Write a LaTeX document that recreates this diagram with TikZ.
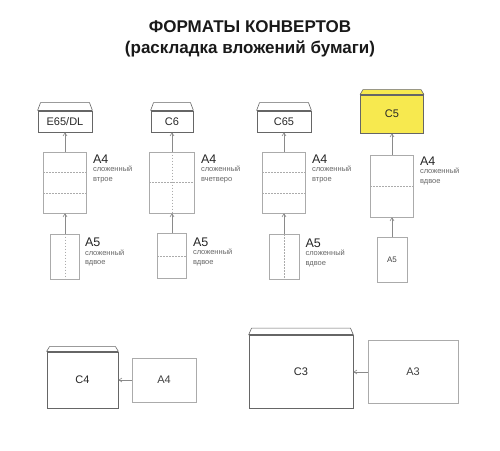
\documentclass[tikz,border=0pt]{standalone}
\usepackage{fontspec}
\setmainfont{Liberation Sans}
\usetikzlibrary{arrows.meta,positioning,calc}

\definecolor{envyellow}{HTML}{F7E94F}
\definecolor{sheetgray}{HTML}{ABABAB}
\definecolor{envgray}{HTML}{666666}
\definecolor{arrgray}{HTML}{8A8A8A}

\tikzset{
  env/.style={draw=envgray, line width=0.9pt, inner sep=0pt, text=black!85,
    font=\fontsize{11}{11}\selectfont},
  sheet/.style={draw=sheetgray, line width=0.6pt, inner sep=0pt, text=black!75,
    font=\fontsize{11}{11}\selectfont},
  fold/.style={sheetgray, line width=0.5pt, dash pattern=on 1.5pt off 1.5pt},
  arr/.style={-{Straight Barb[length=3pt,width=4pt]}, arrgray, line width=0.6pt},
  biglbl/.style={anchor=north west, inner sep=0pt, text=black!85,
    font=\fontsize{12.5}{12.5}\selectfont},
  smalllbl/.style={inner sep=0pt, align=left, text=black!60,
    font=\fontsize{7.5}{9.5}\selectfont},
}

\begin{document}
\begin{tikzpicture}[x=1pt, y=-1pt]
  \useasboundingbox (0,0) rectangle (500,450);

  % title
  \node[font=\bfseries\fontsize{17}{17}\selectfont, text=black!90] (title) at (250,27) {ФОРМАТЫ КОНВЕРТОВ};
  \node[font=\bfseries\fontsize{17}{17}\selectfont, text=black!90] (subtitle) at (250,49) {(раскладка вложений бумаги)};

  % envelopes
  \node[env, minimum width=54, minimum height=21] (dl) at (65,121.5) {E65/DL};
  \node[env, minimum width=42, minimum height=21] (c6) at (172,121.5) {C6};
  \node[env, minimum width=54, minimum height=21] (c65) at (284,121.5) {C65};
  \node[env, fill=envyellow, minimum width=63, minimum height=38] (c5) at (392,114) {C5};
  \node[env, minimum width=71, minimum height=56] (c4) at (82.5,380) {C4};
  \node[env, minimum width=104, minimum height=73] (c3) at (301,372) {C3};

  % flaps
  \foreach \e/\h/\f in {dl/8/white, c6/8/white, c65/8/white, c5/5/envyellow, c4/5/white, c3/7/white} {
    \draw[envgray, line width=0.6pt, fill=\f] (\e.north west) -- ([shift={(3,-\h)}]\e.north west)
      -- ([shift={(-3,-\h)}]\e.north east) -- (\e.north east);
    \draw[envgray, line width=1.3pt] (\e.north west) -- (\e.north east);
  }

  % column 1: A4 in three, A5 in two
  \node[sheet, minimum width=43, minimum height=61] (a4a) at (65,182.5) {};
  \draw[fold] ($(a4a.north west)!1/3!(a4a.south west)$) -- ($(a4a.north east)!1/3!(a4a.south east)$);
  \draw[fold] ($(a4a.north west)!2/3!(a4a.south west)$) -- ($(a4a.north east)!2/3!(a4a.south east)$);
  \node[sheet, minimum width=29, minimum height=45] (a5a) at (65,256.5) {};
  \draw[fold] (a5a.north) -- (a5a.south);
  \draw[arr] (a5a) -- (a4a);
  \draw[arr] (a4a) -- (dl);
  \node[biglbl] (a4al) at ([xshift=6pt,yshift=-3pt]a4a.north east) {A4};
  \node[smalllbl, below=2.5pt of a4al.south west, anchor=north west] {сложенный\\втрое};
  \node[biglbl] (a5al) at ([xshift=5pt,yshift=-4pt]a5a.north east) {A5};
  \node[smalllbl, below=2.5pt of a5al.south west, anchor=north west] {сложенный\\вдвое};

  % column 2: A4 in four, A5 in two
  \node[sheet, minimum width=45, minimum height=61] (a4b) at (172,182.5) {};
  \draw[fold] (a4b.north) -- (a4b.south);
  \draw[fold] (a4b.west) -- (a4b.east);
  \node[sheet, minimum width=29, minimum height=45] (a5b) at (172,256) {};
  \draw[fold] (a5b.west) -- (a5b.east);
  \draw[arr] (a5b) -- (a4b);
  \draw[arr] (a4b) -- (c6);
  \node[biglbl] (a4bl) at ([xshift=6pt,yshift=-3pt]a4b.north east) {A4};
  \node[smalllbl, below=2.5pt of a4bl.south west, anchor=north west] {сложенный\\вчетверо};
  \node[biglbl] (a5bl) at ([xshift=6pt,yshift=-4pt]a5b.north east) {A5};
  \node[smalllbl, below=2.5pt of a5bl.south west, anchor=north west] {сложенный\\вдвое};

  % column 3: A4 in three, A5 in two
  \node[sheet, minimum width=43, minimum height=61] (a4c) at (284,182.5) {};
  \draw[fold] ($(a4c.north west)!1/3!(a4c.south west)$) -- ($(a4c.north east)!1/3!(a4c.south east)$);
  \draw[fold] ($(a4c.north west)!2/3!(a4c.south west)$) -- ($(a4c.north east)!2/3!(a4c.south east)$);
  \node[sheet, minimum width=30, minimum height=45] (a5c) at (284,257) {};
  \draw[fold] (a5c.north) -- (a5c.south);
  \draw[arr] (a5c) -- (a4c);
  \draw[arr] (a4c) -- (c65);
  \node[biglbl] (a4cl) at ([xshift=6pt,yshift=-3pt]a4c.north east) {A4};
  \node[smalllbl, below=2.5pt of a4cl.south west, anchor=north west] {сложенный\\втрое};
  \node[biglbl] (a5cl) at ([xshift=6pt,yshift=-4pt]a5c.north east) {A5};
  \node[smalllbl, below=2.5pt of a5cl.south west, anchor=north west] {сложенный\\вдвое};

  % column 4: A4 in two, A5 flat
  \node[sheet, minimum width=43, minimum height=62] (a4d) at (392,186) {};
  \draw[fold] (a4d.west) -- (a4d.east);
  \node[sheet, minimum width=30, minimum height=45, font=\fontsize{8}{8}\selectfont] (a5d) at (392,259.5) {A5};
  \draw[arr] (a5d) -- (a4d);
  \draw[arr] (a4d) -- (c5);
  \node[biglbl] (a4dl) at ([xshift=6pt,yshift=-2pt]a4d.north east) {A4};
  \node[smalllbl, below=2.5pt of a4dl.south west, anchor=north west] {сложенный\\вдвое};

  % bottom row
  \node[sheet, minimum width=64, minimum height=44] (a4e) at (164,380) {A4};
  \node[sheet, minimum width=90, minimum height=63] (a3) at (413,372) {A3};
  \draw[arr] (a4e) -- (c4);
  \draw[arr] (a3) -- (c3);
\end{tikzpicture}
\end{document}
